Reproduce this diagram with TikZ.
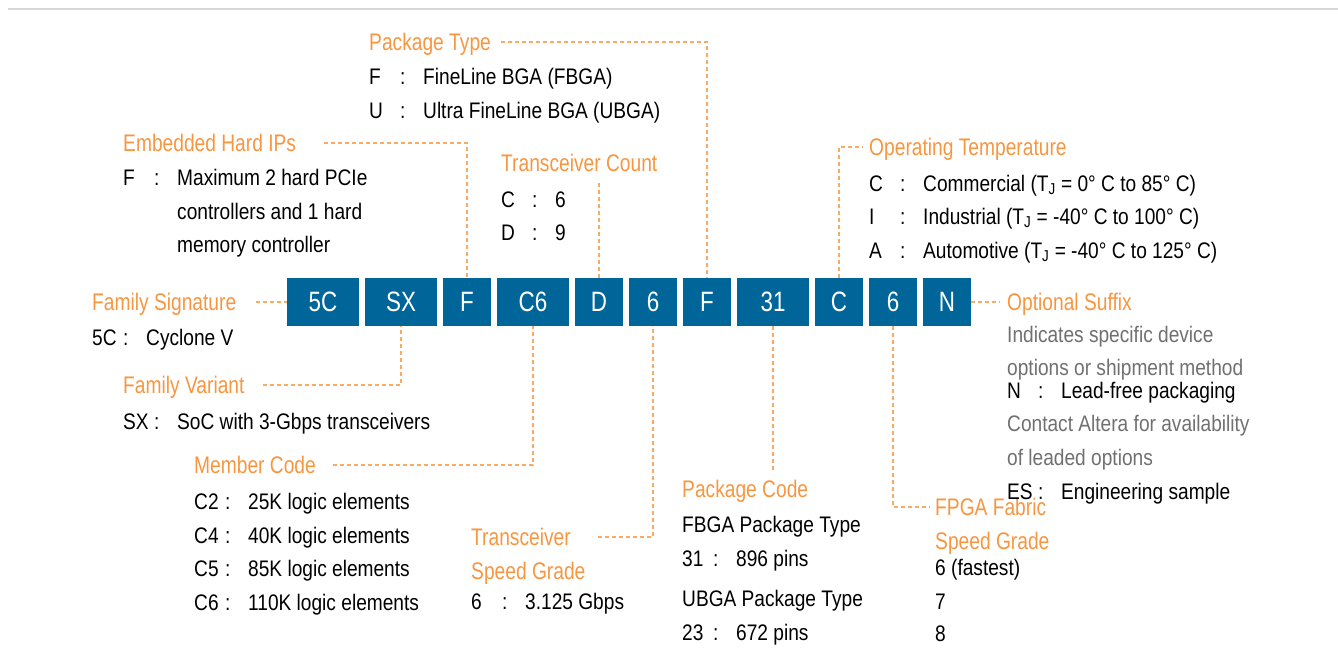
\documentclass[tikz,border=0pt]{standalone}
\usepackage{fontspec}
\setmainfont{Liberation Sans}[FakeStretch=0.8]
\newfontfamily\bodyfont{Liberation Sans}[FakeStretch=0.85]
\usetikzlibrary{positioning}

\definecolor{codeblue}{RGB}{0,101,153}
\definecolor{headorange}{RGB}{247,150,64}
\definecolor{leadorange}{RGB}{250,170,100}
\definecolor{notegrey}{RGB}{112,112,112}
\definecolor{rulegrey}{RGB}{215,215,215}

% key : value line
\newcommand\kv[2]{\makebox[31pt][l]{#1}\makebox[23pt][l]{:}#2}

\begin{document}
\begin{tikzpicture}[x=1pt,y=-1pt,
    code/.style={fill=codeblue, text=white, inner sep=0pt, outer sep=0pt,
        minimum height=48pt, font=\fontsize{28}{30}\selectfont},
    wide/.style={code, minimum width=72pt},
    narrow/.style={code, minimum width=48pt},
    head/.style={text=headorange, inner sep=0pt, anchor=base west,
        text height=18pt, text depth=2pt, font=\fontsize{24}{28}\selectfont},
    txt/.style={text=black, inner sep=0pt, anchor=base west,
        font=\bodyfont\fontsize{22.5}{26}\selectfont},
    note/.style={txt, text=notegrey},
    lead/.style={draw=leadorange, line width=1.2pt, dash pattern=on 4pt off 3pt}
]
\useasboundingbox (0,0) rectangle (1338,670);

\draw[rulegrey, line width=1.5pt] (8,9) -- (1338,9);

% the code boxes
\node[wide] (b5C) at (323,302) {5C};
\node[wide, right=6pt of b5C] (bSX) {SX};
\node[narrow, right=6pt of bSX] (bF1) {F};
\node[wide, right=6pt of bF1] (bC6) {C6};
\node[narrow, right=6pt of bC6] (bD) {D};
\node[narrow, right=6pt of bD] (b6a) {6};
\node[narrow, right=6pt of b6a] (bF2) {F};
\node[wide, right=6pt of bF2] (b31) {31};
\node[narrow, right=6pt of b31] (bC) {C};
\node[narrow, right=6pt of bC] (b6b) {6};
\node[narrow, right=6pt of b6b] (bN) {N};

% package type
\node[head] (pkgtype) at (369,50) {Package Type};
\node[txt] (pkgF) at (369,84) {\kv{F}{FineLine BGA (FBGA)}};
\node[txt] (pkgU) at (369,118) {\kv{U}{Ultra FineLine BGA (UBGA)}};

% embedded hard IPs
\node[head] (embhard) at (123,151) {Embedded Hard IPs};
\node[txt] (embF) at (123,185) {\kv{F}{Maximum 2 hard PCIe}};
\node[txt] (embFb) at (177,219) {controllers and 1 hard};
\node[txt] (embFc) at (177,252) {memory controller};

% transceiver count
\node[head] (xcvrcnt) at (501,171) {Transceiver Count};
\node[txt] (cntC) at (501,207) {\kv{C}{6}};
\node[txt] (cntD) at (501,240) {\kv{D}{9}};

% operating temperature
\node[head] (optemp) at (869,155) {Operating Temperature};
\node[txt] (tempC) at (869,191) {\kv{C}{Commercial (T\textsubscript{J} = 0° C to 85° C)}};
\node[txt] (tempI) at (869,224) {\kv{I}{Industrial (T\textsubscript{J} = -40° C to 100° C)}};
\node[txt] (tempA) at (869,258) {\kv{A}{Automotive (T\textsubscript{J} = -40° C to 125° C)}};

% family signature
\node[head] (famsig) at (92,310) {Family Signature};
\node[txt] (sig5C) at (92,345) {\kv{5C}{Cyclone V}};

% family variant
\node[head] (famvar) at (123,393) {Family Variant};
\node[txt] (varSX) at (123,429) {\kv{SX}{SoC with 3-Gbps transceivers}};

% member code
\node[head] (member) at (194,473) {Member Code};
\node[txt] (memC2) at (194,509) {\kv{C2}{25K logic elements}};
\node[txt] (memC4) at (194,543) {\kv{C4}{40K logic elements}};
\node[txt] (memC5) at (194,576) {\kv{C5}{85K logic elements}};
\node[txt] (memC6) at (194,610) {\kv{C6}{110K logic elements}};

% transceiver speed grade
\node[head] (xcvrsg) at (471,545) {Transceiver};
\node[head] (xcvrsgb) at (471,579) {Speed Grade};
\node[txt] (sg6) at (471,609) {\kv{6}{3.125 Gbps}};

% package code
\node[head] (pkgcode) at (682,497) {Package Code};
\node[txt] (fbga) at (682,532) {FBGA Package Type};
\node[txt] (code31) at (682,566) {\kv{31}{896 pins}};
\node[txt] (ubga) at (682,606) {UBGA Package Type};
\node[txt] (code23) at (682,640) {\kv{23}{672 pins}};

% fabric speed grade
\node[head] (fabric) at (935,515) {FPGA Fabric};
\node[head] (fabricb) at (935,549) {Speed Grade};
\node[txt] (fab6) at (935,575) {6 (fastest)};
\node[txt] (fab7) at (935,609) {7};
\node[txt] (fab8) at (935,641) {8};

% optional suffix
\node[head] (optsfx) at (1007,310) {Optional Suffix};
\node[note] (sfxa) at (1007,342) {Indicates specific device};
\node[note] (sfxb) at (1007,375) {options or shipment method};
\node[txt] (sfxN) at (1007,398) {\kv{N}{Lead-free packaging}};
\node[note] (sfxc) at (1007,431) {Contact Altera for availability};
\node[note] (sfxd) at (1007,465) {of leaded options};
\node[txt] (sfxES) at (1007,499) {\kv{ES}{Engineering sample}};

% leaders
\draw[lead] ([xshift=10pt]pkgtype.east) -| (bF2.north);
\draw[lead] ([xshift=28pt]embhard.east) -| (bF1.north);
\draw[lead, shorten >=7pt] (bD.north) -- (bD.north |- xcvrcnt.south);
\draw[lead] (bC.north) |- ([xshift=-6pt]optemp.west);
\draw[lead] ([xshift=20pt]famsig.east) -- (b5C.west);
\draw[lead] ([xshift=18pt]famvar.east) -| (bSX.south);
\draw[lead] ([xshift=17pt]member.east) -| (bC6.south);
\draw[lead] ([xshift=27pt]xcvrsg.east) -| (b6a.south);
\draw[lead, shorten >=9pt] (b31.south) -- (b31.south |- pkgcode.north);
\draw[lead] (b6b.south) |- ([xshift=-5pt]fabric.west);
\draw[lead] (bN.east) -- ([xshift=-7pt]optsfx.west);

\end{tikzpicture}
\end{document}
